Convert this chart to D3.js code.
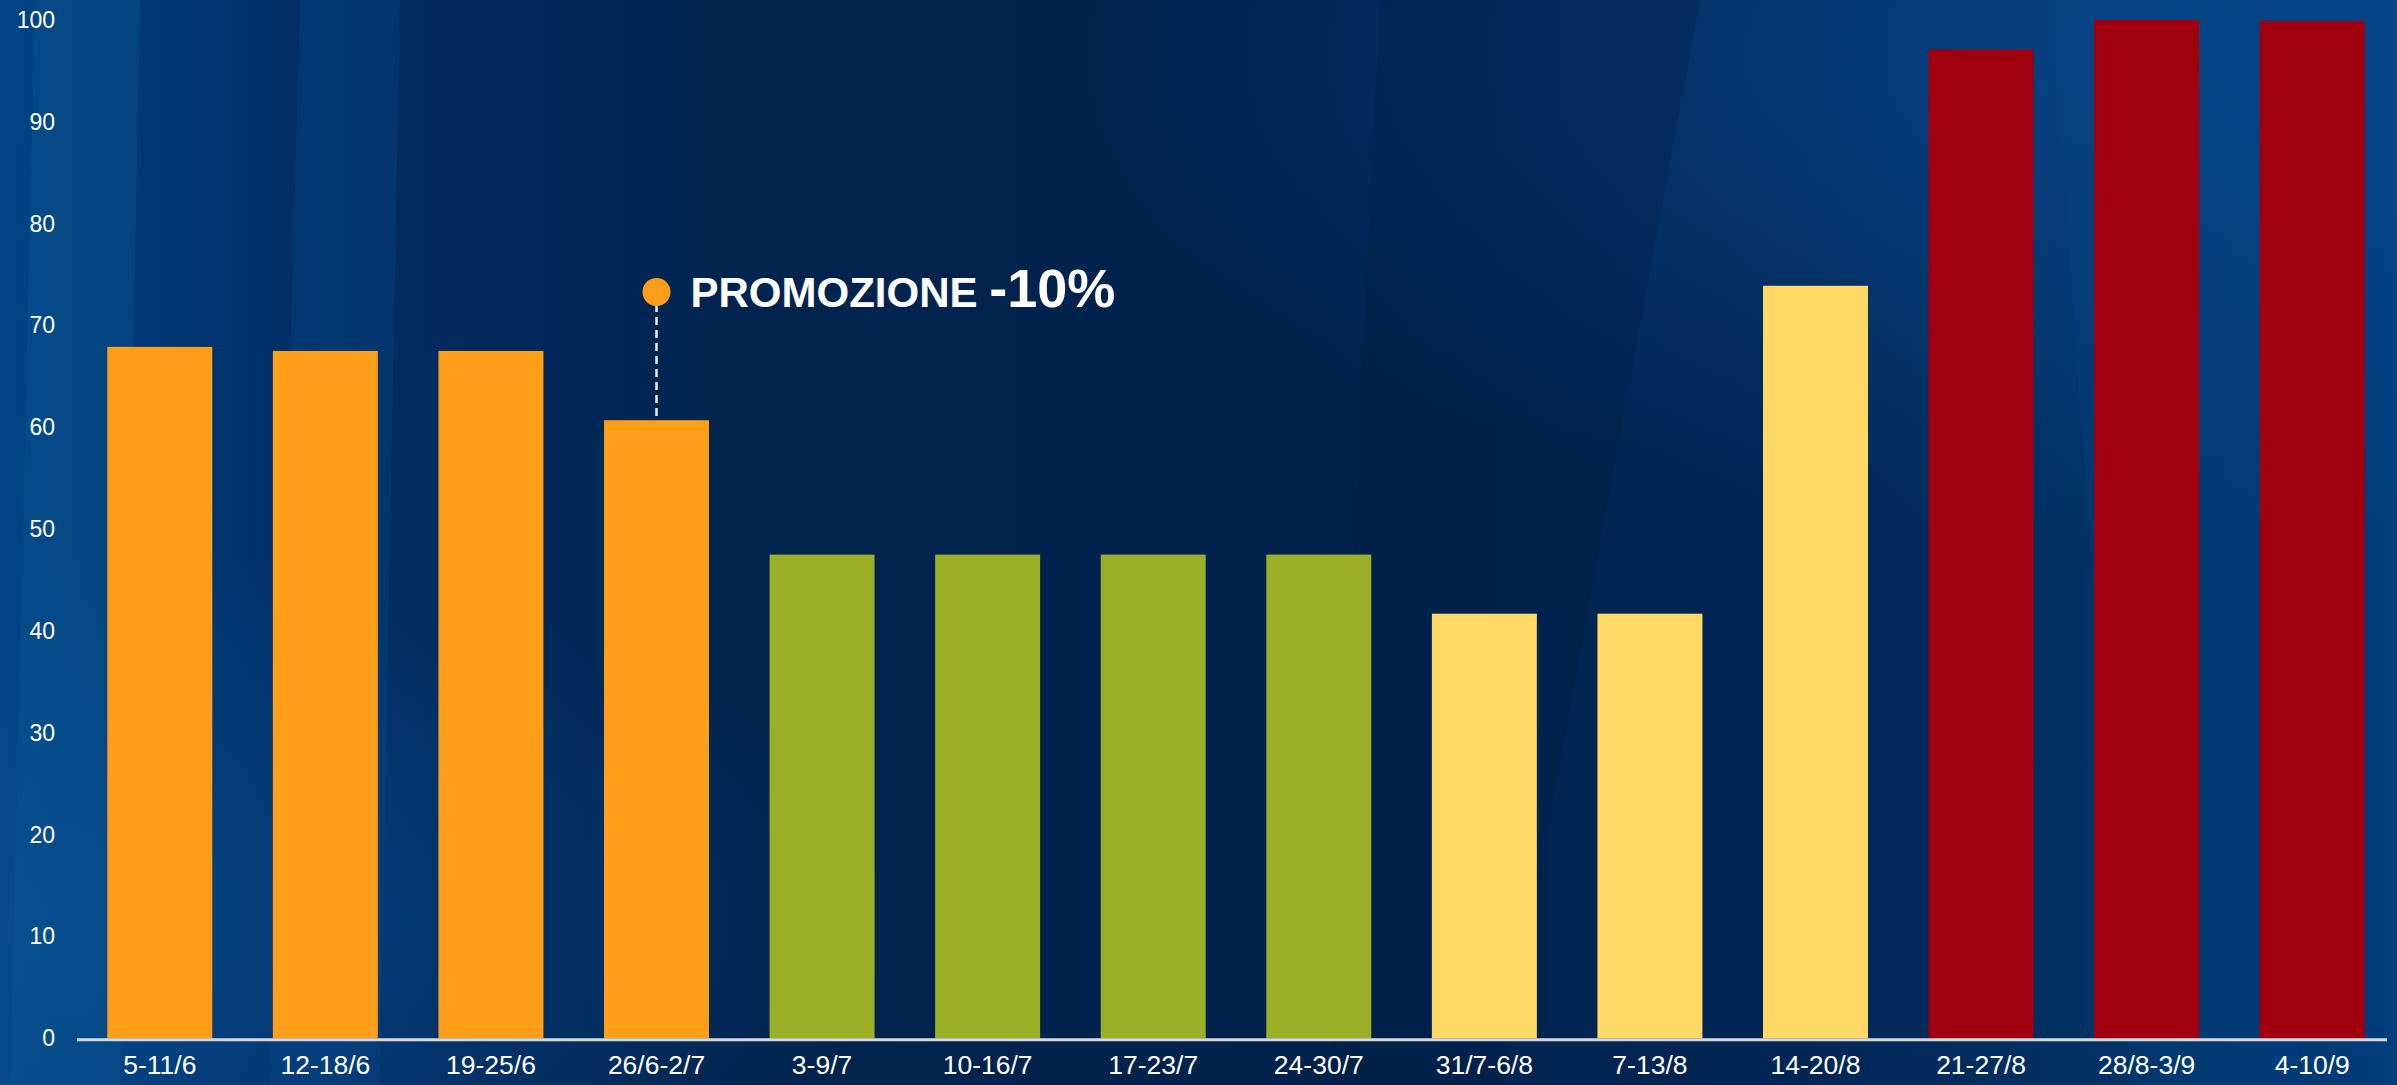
<!DOCTYPE html>
<html>
<head>
<meta charset="utf-8">
<script src="https://cdn.jsdelivr.net/npm/d3@7"></script>
<style>
  html, body { margin: 0; padding: 0; background: #00214d; overflow: hidden; }
  svg { display: block; font-family: "Liberation Sans", Arial, sans-serif; }
</style>
</head>
<body>
<svg id="chart"></svg>
<script>
// weekly values
let weeks = ["5-11/6", "12-18/6", "19-25/6", "26/6-2/7", "3-9/7", "10-16/7", "17-23/7",
             "24-30/7", "31/7-6/8", "7-13/8", "14-20/8", "21-27/8", "28/8-3/9", "4-10/9"];
let values = [67.9, 67.5, 67.5, 60.7, 47.5, 47.5, 47.5, 47.5, 41.7, 41.7, 73.9, 97.1, 100, 99.9];
let groups = ["orange", "orange", "orange", "orange", "green", "green", "green", "green",
              "yellow", "yellow", "yellow", "red", "red", "red"];
let yTicks = [0, 10, 20, 30, 40, 50, 60, 70, 80, 90, 100];

let colors = {orange: "#ff9e18", green: "#9bb027", yellow: "#ffd966", red: "#a1000f"};

let promoIndex = 3;
let promoLabel = "PROMOZIONE", promoValue = "-10%";

let size = {width: 2397, height: 1085};

let svg = d3.select("#chart")
  .attr("width", size.width)
  .attr("height", size.height);

// background
let defs = svg.append("defs");
let bg = defs.append("linearGradient").attr("id", "bg").attr("x1", 0).attr("x2", 1).attr("y1", 0).attr("y2", 0);
[[0, "#004584"], [0.05, "#003a78"], [0.12, "#012f66"], [0.3, "#01244f"],
 [0.55, "#00224d"], [0.75, "#012655"], [0.9, "#013468"], [1, "#003d7d"]]
  .forEach(s => bg.append("stop").attr("offset", s[0]).attr("stop-color", s[1]));

let glow = defs.append("radialGradient").attr("id", "glow")
  .attr("cx", 0.9).attr("cy", 0.05).attr("r", 0.45);
glow.append("stop").attr("offset", 0).attr("stop-color", "#0a4a90").attr("stop-opacity", 0.7);
glow.append("stop").attr("offset", 1).attr("stop-color", "#0a4a90").attr("stop-opacity", 0);

let glowL = defs.append("radialGradient").attr("id", "glowL")
  .attr("cx", 0.02).attr("cy", 0.85).attr("r", 0.35);
glowL.append("stop").attr("offset", 0).attr("stop-color", "#0a4e92").attr("stop-opacity", 0.6);
glowL.append("stop").attr("offset", 1).attr("stop-color", "#0a4e92").attr("stop-opacity", 0);

svg.append("rect").attr("width", size.width).attr("height", size.height).attr("fill", "url(#bg)");
svg.append("rect").attr("width", size.width).attr("height", size.height).attr("fill", "url(#glow)");
svg.append("rect").attr("width", size.width).attr("height", size.height).attr("fill", "url(#glowL)");

// soft streaks
let streaks = [
  {pts: [[35, 0], [140, 0], [120, 1085], [10, 1085]], c: "#0b5a96", o: 0.35},
  {pts: [[300, 0], [400, 0], [380, 1085], [270, 1085]], c: "#0a4d8e", o: 0.3},
  {pts: [[1380, 0], [1700, 0], [1500, 1085], [1330, 1085]], c: "#001a40", o: 0.25},
  {pts: [[2050, 0], [2250, 0], [2300, 1085], [2130, 1085]], c: "#0a4a8c", o: 0.2}
];
svg.append("g").selectAll("polygon")
  .data(streaks)
  .enter().append("polygon")
  .attr("points", d => d.pts.map(p => p.join(",")).join(" "))
  .attr("fill", d => d.c)
  .attr("opacity", d => d.o);

// scales
let x = d3.scaleBand()
  .domain(weeks)
  .range([77, 2395])
  .paddingInner(0.366)
  .paddingOuter(0.183);

let y = d3.scaleLinear()
  .domain([0, 100])
  .range([1038.3, 20]);

// bars
svg.append("g")
  .selectAll("rect")
  .data(values)
  .enter().append("rect")
  .attr("x", (d, i) => x(weeks[i]))
  .attr("y", d => y(d))
  .attr("width", x.bandwidth())
  .attr("height", d => y(0) - y(d))
  .attr("fill", (d, i) => colors[groups[i]]);

// baseline
svg.append("line")
  .attr("x1", 77).attr("x2", 2387)
  .attr("y1", y(0) + 1.5).attr("y2", y(0) + 1.5)
  .attr("stroke", "#d9d9d9")
  .attr("stroke-width", 3);

// y axis
let yAxis = svg.append("g")
  .attr("transform", "translate(62,0)")
  .call(d3.axisLeft(y).tickValues(yTicks).tickSize(0).tickPadding(7));
yAxis.select(".domain").remove();
yAxis.selectAll("text")
  .attr("fill", "#ffffff")
  .attr("font-size", "23px")
  .attr("font-family", "Liberation Sans, Arial, sans-serif");

// x axis
let xAxis = svg.append("g")
  .attr("transform", `translate(0,${y(0)})`)
  .call(d3.axisBottom(x).tickSize(0).tickPadding(17));
xAxis.select(".domain").remove();
xAxis.selectAll("text")
  .attr("fill", "#ffffff")
  .attr("font-size", "26.5px")
  .attr("font-family", "Liberation Sans, Arial, sans-serif");

// promo annotation
let px = x(weeks[promoIndex]) + x.bandwidth() / 2;
let py = 292;
svg.append("line")
  .attr("x1", px).attr("x2", px)
  .attr("y1", py + 12).attr("y2", y(values[promoIndex]))
  .attr("stroke", "#e8eef5")
  .attr("stroke-width", 2.5)
  .attr("stroke-dasharray", "8,5");
svg.append("circle")
  .attr("cx", px).attr("cy", py)
  .attr("r", 14)
  .attr("fill", colors.orange);

let label = svg.append("text")
  .attr("x", px + 34)
  .attr("y", py + 15)
  .attr("fill", "#ffffff")
  .attr("font-weight", "bold")
  .attr("font-family", "Liberation Sans, Arial, sans-serif");
label.append("tspan").attr("font-size", "42px").text(promoLabel + " ");
label.append("tspan").attr("font-size", "54px").text(promoValue);
</script>
</body>
</html>
